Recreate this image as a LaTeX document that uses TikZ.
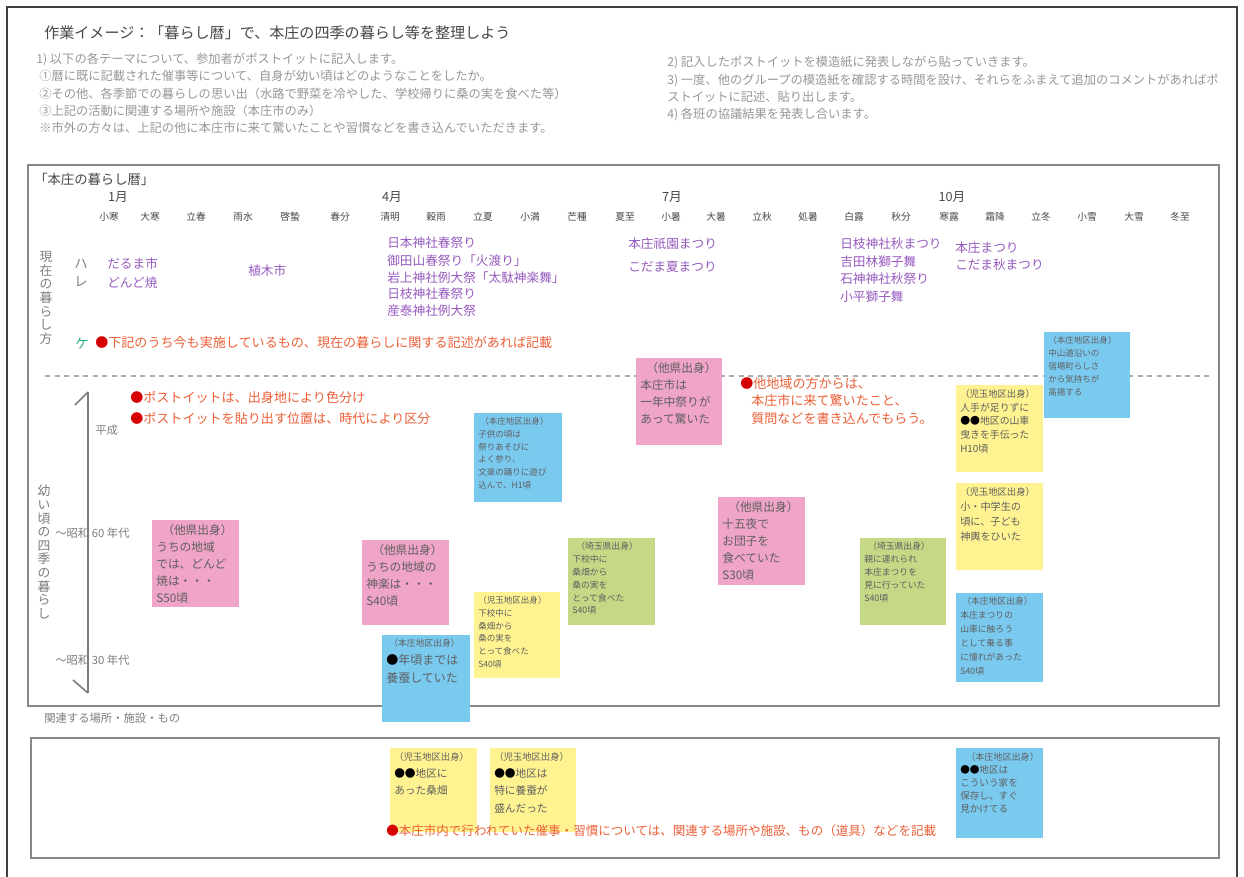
\documentclass[tikz,border=0pt]{standalone}
\usepackage{fontspec}
\setmainfont{Noto Sans CJK JP}
\newdimen\pxu \pxu=0.75pt
\definecolor{pinkc}{RGB}{240,164,200}
\definecolor{bluec}{RGB}{122,202,240}
\definecolor{yellowc}{RGB}{255,243,145}
\definecolor{greenc}{RGB}{196,216,134}
\definecolor{purplec}{RGB}{150,90,190}
\definecolor{redtxt}{RGB}{235,95,55}
\definecolor{reddot}{RGB}{215,0,0}
\definecolor{gtxt}{RGB}{125,125,125}
\definecolor{ltxt}{RGB}{150,150,150}
\definecolor{dtxt}{RGB}{70,70,70}
\definecolor{notetxt}{RGB}{95,95,95}
\definecolor{framec}{RGB}{135,135,135}
\definecolor{kegreen}{RGB}{40,170,130}
\newcommand\fs[2]{\fontsize{#1}{#2}\selectfont}
\newcommand\rd{{\color{reddot}●}}
\newcommand\bk{{\color{black}●}}
\newcommand\nbox[3]{\parbox[t][#2\pxu][t]{#1\pxu}{#3}}
\tikzset{
  note/.style={anchor=north west, inner xsep=4\pxu, inner ysep=4\pxu, text=notetxt},
  txt/.style={anchor=west, inner sep=0pt},
  ev/.style={txt, text=purplec, font=\fs{9.5}{11}},
  redline/.style={txt, text=redtxt, font=\fs{9.8}{11}},
  term/.style={inner sep=0pt, text=dtxt, font=\fs{7.3}{8}},
  month/.style={inner sep=0pt, text=dtxt, font=\fs{9.5}{10}},
  boxframe/.style={draw=framec, line width=1.6\pxu},
  vlab/.style={inner sep=0pt, align=center, text=gtxt, font=\fs{9.6}{10.2}},
  lbl/.style={txt, text=gtxt, font=\fs{8.5}{10}},
  axisline/.style={draw=gtxt, line width=1.6\pxu},
}
\begin{document}
\begin{tikzpicture}[x=0.75pt,y=-0.75pt]
\useasboundingbox (0,0) rectangle (1244,876);
% page border (open at the bottom edge of the page)
\coordinate (pb1) at (7,880);
\coordinate (pb2) at (7,7);
\coordinate (pb3) at (1237,7);
\coordinate (pb4) at (1237,880);
\draw[line width=1.6\pxu, draw=black!75] (pb1) -- (pb2) -- (pb3) -- (pb4);
% title and instructions
\node[txt, text=dtxt, font=\fs{11.3}{13}] (title) at (44,33) {作業イメージ：「暮らし暦」で、本庄の四季の暮らし等を整理しよう};
\node[anchor=north west, inner sep=0pt, align=left, text=ltxt, font=\fs{9.2}{12.9}] (instrL) at (36,53)
 {1) 以下の各テーマについて、参加者がポストイットに記入します。\\
  \hspace{3\pxu}①暦に既に記載された催事等について、自身が幼い頃はどのようなことをしたか。\\
  \hspace{3\pxu}②その他、各季節での暮らしの思い出（水路で野菜を冷やした、学校帰りに桑の実を食べた等）\\
  \hspace{3\pxu}③上記の活動に関連する場所や施設（本庄市のみ）\\
  \hspace{3\pxu}※市外の方々は、上記の他に本庄市に来て驚いたことや習慣などを書き込んでいただきます。};
\node[anchor=north west, inner sep=0pt, align=left, text=ltxt, font=\fs{9.2}{13}] (instrR) at (667,56)
 {2) 記入したポストイットを模造紙に発表しながら貼っていきます。\\
  3) 一度、他のグループの模造紙を確認する時間を設け、それらをふまえて追加のコメントがあればポ\\
  ストイットに記述、貼り出します。\\
  4) 各班の協議結果を発表し合います。};
% frames
\node[boxframe, anchor=north west, inner sep=0pt, minimum width=1191\pxu, minimum height=541\pxu] (mainframe) at (27,164) {};
\node[boxframe, anchor=north west, inner sep=0pt, minimum width=1188\pxu, minimum height=120\pxu] (subframe) at (30,737) {};
\node[txt, text=dtxt, font=\fs{10}{12}] (ftitle) at (34,179) {「本庄の暮らし暦」};
\node[txt, text=gtxt, font=\fs{8.5}{10}] (rel) at (44,718) {関連する場所・施設・もの};
% months
\node[month] (m1) at (118,197) {1月};
\node[month] (m4) at (392,197) {4月};
\node[month] (m7) at (672,197) {7月};
\node[month] (m10) at (952,197) {10月};
% solar terms
\foreach \t/\x [count=\i] in {小寒/109,大寒/150,立春/196,雨水/243,啓蟄/290,春分/340,清明/390,穀雨/436,立夏/483,小満/530,芒種/577,夏至/625,小暑/671,大暑/716,立秋/762,処暑/808,白露/854,秋分/901,寒露/949,霜降/995,立冬/1041,小雪/1087,大雪/1134,冬至/1180}
  \node[term] (st\i) at (\x,217) {\t};
% present-day labels
\node[vlab] (labnow) at (46,298) {現\\在\\の\\暮\\ら\\し\\方};
\node[vlab, font=\fs{10}{13.5}] (hare) at (81,273) {ハ\\レ};
\node[txt, text=kegreen, font=\fs{10}{12}] (ke) at (75,343) {ケ};
% hare events
\node[ev] (e1) at (107,264) {だるま市};
\node[ev] (e2) at (107,283) {どんど焼};
\node[ev] (e3) at (248,271) {植木市};
\node[ev] (e4) at (387,243) {日本神社春祭り};
\node[ev] (e5) at (387,261) {御田山春祭り「火渡り」};
\node[ev] (e6) at (387,278) {岩上神社例大祭「太駄神楽舞」};
\node[ev] (e7) at (387,294) {日枝神社春祭り};
\node[ev] (e8) at (387,311) {産泰神社例大祭};
\node[ev] (e9) at (628,244) {本庄祇園まつり};
\node[ev] (e10) at (628,267) {こだま夏まつり};
\node[ev] (e11) at (840,244) {日枝神社秋まつり};
\node[ev] (e12) at (840,262) {吉田林獅子舞};
\node[ev] (e13) at (840,279) {石神神社秋祭り};
\node[ev] (e14) at (840,297) {小平獅子舞};
\node[ev] (e15) at (955,248) {本庄まつり};
\node[ev] (e16) at (955,265) {こだま秋まつり};
\node[redline] (r1) at (95,343) {\rd 下記のうち今も実施しているもの、現在の暮らしに関する記述があれば記載};
% dashed divider
\coordinate (d1) at (45,376);
\coordinate (d2) at (1212,376);
\draw[draw=gray!65, line width=2\pxu, dash pattern=on 5\pxu off 4.5\pxu] (d1) -- (d2);
% childhood labels and axis
\node[vlab] (labold) at (44,552) {幼\\い\\頃\\の\\四\\季\\の\\暮\\ら\\し};
\coordinate (atop) at (88,392);
\coordinate (abot) at (88,693);
\coordinate (atopb) at (75,405);
\coordinate (abotb) at (73,680);
\draw[axisline] (atop) -- (abot);
\draw[axisline] (atop) -- (atopb);
\draw[axisline] (abot) -- (abotb);
\node[lbl] (heisei) at (95,430) {平成};
\node[lbl] (s60) at (55,533) {～昭和 60 年代};
\node[lbl] (s30) at (55,660) {～昭和 30 年代};
\node[redline] (r2) at (130,397) {\rd ポストイットは、出身地により色分け};
\node[redline] (r3) at (130,418) {\rd ポストイットを貼り出す位置は、時代により区分};
\node[redline, align=left, font=\fs{9.8}{13.1}, anchor=north west] (r4) at (740,377) {\rd 他地域の方からは、\\\hspace{11\pxu}本庄市に来て驚いたこと、\\\hspace{11\pxu}質問などを書き込んでもらう。};
% sticky notes (childhood)
\node[note, fill=pinkc] (n1) at (152,520) {\nbox{79}{79}{\fs{8.8}{12.8}\hspace{6\pxu}（他県出身）\\うちの地域\\では、どんど\\焼は・・・\\S50頃}};
\node[note, fill=pinkc] (n2) at (362,540) {\nbox{79}{77}{\fs{8.8}{12.8}\hspace{6\pxu}（他県出身）\\うちの地域の\\神楽は・・・\\S40頃}};
\node[note, fill=yellowc] (n4) at (474,592) {\nbox{78}{78}{\fs{6.4}{9.6}（児玉地区出身）\\下校中に\\桑畑から\\桑の実を\\とって食べた\\S40頃}};
\node[note, fill=bluec] (n3) at (382,635) {\nbox{80}{79}{\fs{6.6}{10}\hspace{3\pxu}（本庄地区出身）\\\fs{9}{13.5}\bk 年頃までは\\養蚕していた}};
\node[note, fill=greenc] (n5) at (568,538) {\nbox{79}{79}{\fs{6.6}{9.6}\hspace{4\pxu}（埼玉県出身）\\下校中に\\桑畑から\\桑の実を\\とって食べた\\S40頃}};
\node[note, fill=bluec] (n6) at (474,413) {\nbox{80}{81}{\fs{6.4}{9.6}\hspace{2\pxu}（本庄地区出身）\\子供の頃は\\祭りあそびに\\よく参り、\\文楽の踊りに遊び\\込んで、H1頃}};
\node[note, fill=pinkc] (n7) at (636,358) {\nbox{78}{79}{\fs{8.8}{12.8}\hspace{6\pxu}（他県出身）\\本庄市は\\一年中祭りが\\あって驚いた}};
\node[note, fill=pinkc] (n8) at (718,497) {\nbox{79}{80}{\fs{8.8}{12.8}\hspace{6\pxu}（他県出身）\\十五夜で\\お団子を\\食べていた\\S30頃}};
\node[note, fill=greenc] (n9) at (860,538) {\nbox{78}{79}{\fs{6.6}{9.6}\hspace{4\pxu}（埼玉県出身）\\親に連れられ\\本庄まつりを\\見に行っていた\\S40頃}};
\node[note, fill=yellowc] (n10) at (956,385) {\nbox{79}{79}{\fs{7}{10.3}（児玉地区出身）\\\fs{7.4}{10.3}人手が足りずに\\\bk\bk 地区の山車\\曳きを手伝った\\H10頃}};
\node[note, fill=yellowc] (n11) at (956,483) {\nbox{79}{79}{\fs{7}{11.2}（児玉地区出身）\\\fs{7.6}{11.2}小・中学生の\\頃に、子ども\\神輿をひいた}};
\node[note, fill=bluec] (n12) at (956,593) {\nbox{79}{81}{\fs{6.6}{10.5}\hspace{2\pxu}（本庄地区出身）\\本庄まつりの\\山車に触ろう\\として乗る事\\に憧れがあった\\S40頃}};
\node[note, fill=bluec] (n13) at (1044,332) {\nbox{78}{78}{\fs{6.4}{9.8}（本庄地区出身）\\中山道沿いの\\宿場町らしさ\\から気持ちが\\高揚する}};
% related places
\node[note, fill=yellowc] (b1) at (390,748) {\nbox{79}{76}{\fs{7}{13}（児玉地区出身）\\\fs{8}{13}\bk\bk 地区に\\あった桑畑}};
\node[note, fill=yellowc] (b2) at (490,748) {\nbox{78}{76}{\fs{7}{13}（児玉地区出身）\\\fs{8}{13}\bk\bk 地区は\\特に養蚕が\\盛んだった}};
\node[note, fill=bluec] (b3) at (956,748) {\nbox{79}{82}{\fs{6.8}{12.5}\hspace{6\pxu}（本庄地区出身）\\\fs{7.2}{9.9}\bk\bk 地区は\\こういう家を\\保存し、すぐ\\見かけてる}};
\node[redline, font=\fs{9.4}{11}] (r5) at (386,831) {\rd 本庄市内で行われていた催事・習慣については、関連する場所や施設、もの（道具）などを記載};
\end{tikzpicture}
\end{document}
